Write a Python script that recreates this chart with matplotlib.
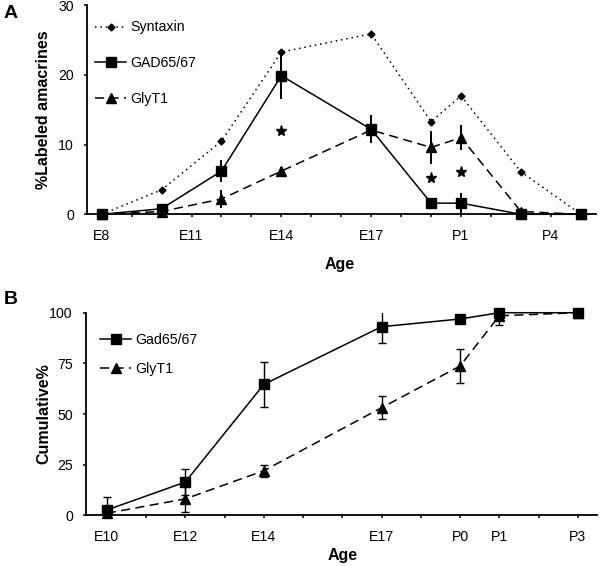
import matplotlib
matplotlib.use("Agg")
import matplotlib.pyplot as plt
from matplotlib.lines import Line2D

plt.rcParams['font.family'] = ['Liberation Sans', 'DejaVu Sans']

# ---------------- Panel A data (x = days since E8) ----------------
a_days = [0, 2, 4, 6, 9, 11, 12, 14, 16]
a_tick_days = [0, 3, 6, 9, 12, 15]
a_tick_labels = ['E8', 'E11', 'E14', 'E17', 'P1', 'P4']
syntaxin = [0, 3.5, 10.5, 23.3, 25.9, 13.3, 17.0, 6.1, 0]
gad_a = [0, 0.8, 6.2, 19.9, 12.2, 1.6, 1.6, 0, 0]
gad_a_err = [0, 0.3, 1.6, 3.4, 2.0, 0.3, 1.5, 0, 0]
gly_a = [0, 0.4, 2.2, 6.2, 12.1, 9.6, 11.0, 0.4, 0]
gly_a_err = [0, 0.2, 1.3, 0.6, 1.0, 2.4, 1.8, 0.2, 0]
star_days = [6, 11, 12]
star_vals = [12.0, 5.2, 6.1]

# ---------------- Panel B data (x = days since E10) ----------------
b_days = [0, 2, 4, 7, 9, 10, 12]
b_tick_labels = ['E10', 'E12', 'E14', 'E17', 'P0', 'P1', 'P3']
gad_b = [2.6, 16.4, 64.6, 93.1, 96.9, 100, 100]
gad_b_err = [6.3, 6.5, 11.2, 8.0, 0.5, 0.5, 0]
gly_b = [1.0, 8.1, 22.0, 53.1, 73.7, 98.5, 100]
gly_b_err = [0.5, 6.3, 3.0, 5.8, 8.3, 4.5, 0]

fig = plt.figure(figsize=(6, 5.66), dpi=100)
axA = fig.add_axes([0.145, 0.6214, 0.848, 0.3692])
axB = fig.add_axes([0.1433, 0.0896, 0.8512, 0.3579])

lw = 1.1
dot = (0, (1, 2.5))
dash = (0, (6, 3.5))

# Panel A
axA.errorbar(a_days, gad_a, yerr=gad_a_err, fmt='none', ecolor='black', elinewidth=1.4, capsize=0, zorder=2)
axA.errorbar(a_days, gly_a, yerr=gly_a_err, fmt='none', ecolor='black', elinewidth=1.4, capsize=0, zorder=2)
dataA = [
    axA.plot(a_days, syntaxin, color='black', lw=lw, ls=dot, marker='D', ms=3.5, label='Syntaxin', zorder=3)[0],
    axA.plot(a_days, gly_a, color='black', lw=lw, ls=dash, marker='^', ms=6.5, label='GlyT1', zorder=3)[0],
    axA.plot(a_days, gad_a, color='black', lw=lw, ls='-', marker='s', ms=7, label='GAD65/67', zorder=4)[0],
]
axA.plot(star_days, star_vals, ls='none', marker='*', ms=8, color='black', zorder=4)

axA.set_xlim(-0.49, 16.5)
axA.set_ylim(0, 30)
axA.set_yticks([0, 10, 20, 30])
axA.set_xticks(range(0, 17))
axA.set_xticklabels([a_tick_labels[a_tick_days.index(d)] if d in a_tick_days else '' for d in range(0, 17)])

hA = [Line2D([], [], color='black', lw=lw, ls=dot, marker='D', ms=3.5),
      Line2D([], [], color='black', lw=lw, ls='-', marker='s', ms=7),
      Line2D([], [], color='black', lw=lw, ls=dash, marker='^', ms=6.5)]
axA.legend(hA, ['Syntaxin', 'GAD65/67', 'GlyT1'], loc='upper left',
           bbox_to_anchor=(95 / 600, 1 - 20.5 / 566), bbox_transform=fig.transFigure,
           frameon=False, fontsize=10.2, handlelength=2.2, handletextpad=0.3,
           labelspacing=1.55, borderpad=0, borderaxespad=0, numpoints=1)

axA.set_ylabel('%Labeled amacrines', fontsize=11.5, fontweight='bold')
axA.yaxis.set_label_coords(-0.0707, 0.5)
axA.set_xlabel('Age', fontsize=11.5, fontweight='bold')
axA.xaxis.set_label_coords(0.497, -0.2057)

# Panel B
axB.errorbar(b_days, gad_b, yerr=gad_b_err, fmt='none', ecolor='black', elinewidth=1.0, capsize=3, capthick=1.0, zorder=2)
axB.errorbar(b_days, gly_b, yerr=gly_b_err, fmt='none', ecolor='black', elinewidth=1.0, capsize=3, capthick=1.0, zorder=2)
dataB = [
    axB.plot(b_days, gly_b, color='black', lw=lw, ls=dash, marker='^', ms=6.5, label='GlyT1', zorder=3)[0],
    axB.plot(b_days, gad_b, color='black', lw=lw, ls='-', marker='s', ms=7, label='Gad65/67', zorder=4)[0],
]

axB.set_xlim(-0.53, 12.48)
axB.set_ylim(0, 100)
axB.set_yticks([0, 25, 50, 75, 100])
axB.set_xticks(range(0, 13))
axB.set_xticklabels([b_tick_labels[b_days.index(d)] if d in b_days else '' for d in range(0, 13)])

hB = [Line2D([], [], color='black', lw=lw, ls='-', marker='s', ms=7),
      Line2D([], [], color='black', lw=lw, ls=dash, marker='^', ms=6.5)]
axB.legend(hB, ['Gad65/67', 'GlyT1'], loc='upper left',
           bbox_to_anchor=(100 / 600, 1 - 332.5 / 566), bbox_transform=fig.transFigure,
           frameon=False, fontsize=10.2, handlelength=2.2, handletextpad=0.3,
           labelspacing=1.1, borderpad=0, borderaxespad=0, numpoints=1)

axB.set_ylabel('Cumulative%', fontsize=11.5, fontweight='bold')
axB.yaxis.set_label_coords(-0.0685, 0.5)
axB.set_xlabel('Age', fontsize=11.5, fontweight='bold')
axB.xaxis.set_label_coords(0.502, -0.163)

for ax in (axA, axB):
    ax.spines['top'].set_visible(False)
    ax.spines['right'].set_visible(False)
    ax.spines['left'].set_linewidth(1.3)
    ax.spines['bottom'].set_linewidth(1.3)
    ax.tick_params(axis='x', direction='out', length=2.5, width=1.1, pad=8, labelsize=10.2)
    ax.tick_params(axis='y', direction='out', length=2.5, width=1.1, pad=7, labelsize=10.2)

for ln in dataA + dataB:
    ln.set_clip_on(False)

fig.text(10.7 / 600, 1 - 14 / 566, 'A', fontsize=14, fontweight='bold', ha='center', va='center')
fig.text(10.7 / 600, 1 - 300 / 566, 'B', fontsize=14, fontweight='bold', ha='center', va='center')

fig.savefig('out.png', dpi=100)
